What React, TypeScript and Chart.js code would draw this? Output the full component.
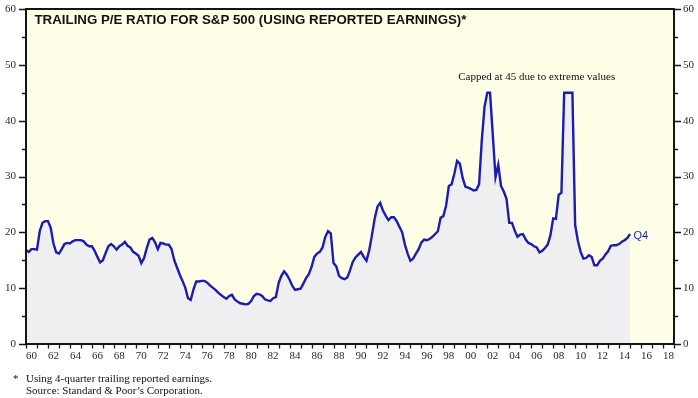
import React, { useEffect, useRef } from "react";
import { Chart, registerables } from "chart.js";

Chart.register(...registerables);

// Quarterly trailing P/E; first point (Q4 1959) sits at 1960.0, then every quarter end.
const startYear = 1960;
const quarterStep = 0.25;
const quarterlyPE: number[] = [
  16.8, 16.5, 17.0, 17.0, // 1960
  16.9, 20.2, 21.7, 22.0, // 1961
  22.0, 20.8, 18.0, 16.4, // 1962
  16.2, 17.0, 17.9, 18.1, // 1963
  18.0, 18.4, 18.6, 18.6, // 1964
  18.6, 18.4, 17.8, 17.5, // 1965
  17.5, 16.7, 15.6, 14.6, // 1966
  15.0, 16.3, 17.5, 17.9, // 1967
  17.5, 16.9, 17.5, 17.8, // 1968
  18.3, 17.6, 17.3, 16.5, // 1969
  16.2, 15.8, 14.5, 15.4, // 1970
  17.2, 18.7, 19.0, 18.2, // 1971
  17.0, 18.1, 18.0, 17.8, // 1972
  17.8, 17.0, 15.0, 13.7, // 1973
  12.4, 11.3, 10.1, 8.2, // 1974
  7.9, 9.8, 11.2, 11.2, // 1975
  11.3, 11.3, 11.0, 10.5, // 1976
  10.1, 9.7, 9.2, 8.8, // 1977
  8.4, 8.1, 8.6, 8.8, // 1978
  8.0, 7.6, 7.3, 7.2, // 1979
  7.1, 7.2, 7.7, 8.6, // 1980
  9.0, 8.9, 8.6, 8.0, // 1981
  7.8, 7.7, 8.2, 8.4, // 1982
  10.9, 12.2, 13.0, 12.4, // 1983
  11.5, 10.4, 9.7, 9.8, // 1984
  9.9, 10.8, 11.8, 12.5, // 1985
  13.8, 15.6, 16.2, 16.5, // 1986
  17.3, 19.2, 20.2, 19.8, // 1987
  14.5, 13.9, 12.2, 11.8, // 1988
  11.6, 11.9, 13.2, 14.7, // 1989
  15.5, 16.0, 16.5, 15.6, // 1990
  14.9, 16.8, 19.5, 22.5, // 1991
  24.6, 25.3, 23.9, 23.0, // 1992
  22.2, 22.7, 22.7, 22.0, // 1993
  21.0, 20.0, 17.8, 16.2, // 1994
  14.9, 15.3, 16.2, 17.0, // 1995
  18.2, 18.7, 18.6, 18.8, // 1996
  19.2, 19.7, 20.2, 22.6, // 1997
  22.9, 24.8, 28.3, 28.6, // 1998
  30.5, 32.8, 32.3, 29.8, // 1999
  28.2, 28.0, 27.8, 27.5, // 2000
  27.6, 28.6, 36.5, 42.5, // 2001
  45.0, 45.0, 37.5, 29.9, // 2002
  32.1, 28.3, 27.3, 26.0, // 2003
  21.7, 21.7, 20.3, 19.2, // 2004
  19.6, 19.7, 18.7, 18.1, // 2005
  17.9, 17.5, 17.3, 16.4, // 2006
  16.7, 17.2, 17.8, 19.5, // 2007
  22.5, 22.4, 26.7, 27.1, // 2008
  45.0, 45.0, 45.0, 45.0, // 2009
  21.3, 18.5, 16.5, 15.3, // 2010
  15.4, 15.9, 15.6, 14.1, // 2011
  14.1, 14.9, 15.3, 16.0, // 2012
  16.6, 17.6, 17.7, 17.7, // 2013
  17.9, 18.3, 18.6, 19.0, // 2014
  19.7, // Q4 2014
];

const xMin = 1960;
const xMax = 2019;
const yMin = 0;
const yMax = 60;
const yLabelStep = 10;
const yMinorStep = 5;

const titleText = "TRAILING P/E RATIO FOR S&P 500 (USING REPORTED EARNINGS)*";
const capNote = "Capped at 45 due to extreme values";
const capNoteYear = 1999.35;
const capNoteValue = 47.3;
const lastLabel = "Q4";
const footnotes = [
  "Using 4-quarter trailing reported earnings.",
  "Source: Standard & Poor\u2019s Corporation.",
];

const LINE = "#1c1cb0";
const FILL = "#efeff2";
const PLOT_BG = "#fffee6";
const AXIS = "#151515";
const TICK_TXT = "#2a2a2a";
const SERIF = "'Liberation Serif', 'Times New Roman', serif";
const SANS = "'Liberation Sans', Arial, sans-serif";

const decor = {
  id: "decor",
  beforeDraw(chart: any) {
    const { ctx, chartArea: a } = chart;
    ctx.save();
    ctx.fillStyle = PLOT_BG;
    ctx.fillRect(a.left, a.top, a.right - a.left, a.bottom - a.top);
    ctx.restore();
  },
  afterDraw(chart: any) {
    const { ctx, chartArea: a, scales } = chart;
    const xs = scales.x;
    const ys = scales.y;
    ctx.save();
    // frame
    ctx.strokeStyle = AXIS;
    ctx.lineWidth = 2;
    ctx.beginPath();
    ctx.moveTo(a.left, a.top);
    ctx.lineTo(a.right, a.top);
    ctx.lineTo(a.right, a.bottom);
    ctx.lineTo(a.left, a.bottom);
    ctx.closePath();
    ctx.stroke();
    // y ticks both sides
    ctx.lineWidth = 1.3;
    for (let v = yMin; v <= yMax; v += yMinorStep) {
      const py = Math.round(ys.getPixelForValue(v)) + 0.5;
      const len = v % yLabelStep === 0 ? 7 : 4;
      ctx.beginPath();
      ctx.moveTo(a.left - len, py);
      ctx.lineTo(a.left, py);
      ctx.moveTo(a.right, py);
      ctx.lineTo(a.right + len, py);
      ctx.stroke();
    }
    // x ticks every year
    for (let yr = xMin; yr <= xMax; yr++) {
      const px = Math.round(xs.getPixelForValue(yr)) + 0.5;
      ctx.beginPath();
      ctx.moveTo(px, a.bottom);
      ctx.lineTo(px, a.bottom + 4.5);
      ctx.stroke();
    }
    // title
    ctx.fillStyle = "#111";
    ctx.font = `bold 13.3px ${SANS}`;
    ctx.textAlign = "left";
    ctx.textBaseline = "alphabetic";
    ctx.fillText(titleText, a.left + 8.5, a.top + 14.5);
    // cap note
    ctx.font = `11px ${SERIF}`;
    ctx.fillStyle = "#111";
    ctx.fillText(capNote, xs.getPixelForValue(capNoteYear), ys.getPixelForValue(capNoteValue));
    // last label
    const lastIdx = quarterlyPE.length - 1;
    const lx = xs.getPixelForValue(startYear + lastIdx * quarterStep);
    const ly = ys.getPixelForValue(quarterlyPE[lastIdx]);
    ctx.font = `11px ${SANS}`;
    ctx.fillStyle = LINE;
    ctx.fillText(lastLabel, lx + 3.5, ly + 4.5);
    // footnotes
    ctx.font = `11px ${SERIF}`;
    ctx.fillStyle = "#111";
    ctx.fillText("*", 13, 382);
    footnotes.forEach((t, i) => ctx.fillText(t, 26, 381.5 + i * 12));
    ctx.restore();
  },
};

export default function App() {
  const ref = useRef<HTMLCanvasElement | null>(null);

  useEffect(() => {
    document.body.style.margin = "0";
    const canvas = ref.current;
    if (!canvas) return;
    const points = quarterlyPE.map((v, i) => ({ x: startYear + i * quarterStep, y: v }));
    const labelValues: number[] = [];
    for (let yr = xMin; yr < xMax; yr += 2) labelValues.push(yr + 0.5);

    const fitY = (w: number) => (s: any) => {
      s.width = w;
      s.paddingTop = 0;
      s.paddingBottom = 0;
    };

    const chart = new Chart(canvas, {
      type: "line",
      data: {
        datasets: [
          {
            data: points,
            borderColor: LINE,
            borderWidth: 2.4,
            backgroundColor: FILL,
            fill: "origin",
            pointRadius: 0,
            tension: 0,
            yAxisID: "y",
          },
        ],
      },
      options: {
        responsive: false,
        animation: false,
        events: [],
        layout: { padding: { top: 9, left: 0, right: 0, bottom: 0 } },
        plugins: { legend: { display: false }, tooltip: { enabled: false }, title: { display: false } },
        scales: {
          x: {
            type: "linear",
            min: xMin,
            max: xMax,
            grid: { display: false, drawTicks: false },
            border: { display: false },
            afterBuildTicks: (s: any) => {
              s.ticks = labelValues.map((v) => ({ value: v }));
            },
            afterFit: (s: any) => {
              s.height = 54;
              s.paddingLeft = 0;
              s.paddingRight = 0;
            },
            ticks: {
              autoSkip: false,
              maxRotation: 0,
              padding: 6,
              color: TICK_TXT,
              font: { family: SERIF, size: 11 },
              callback: (v: any) => String(Math.floor(Number(v)) % 100).padStart(2, "0"),
            },
          },
          y: {
            position: "left",
            min: yMin,
            max: yMax,
            grid: { display: false, drawTicks: false },
            border: { display: false },
            afterFit: fitY(26),
            ticks: { stepSize: yLabelStep, padding: 10, color: TICK_TXT, font: { family: SERIF, size: 11 } },
          },
          y2: {
            position: "right",
            min: yMin,
            max: yMax,
            grid: { display: false, drawTicks: false },
            border: { display: false },
            afterFit: fitY(24),
            ticks: { stepSize: yLabelStep, padding: 9, color: TICK_TXT, font: { family: SERIF, size: 11 } },
          },
        },
      },
      plugins: [decor],
    } as any);
    return () => chart.destroy();
  }, []);

  return (
    <div style={{ position: "fixed", left: 0, top: 0, width: 698, height: 398, background: "#fff" }}>
      <canvas ref={ref} width={698} height={398} style={{ display: "block" }} />
    </div>
  );
}
